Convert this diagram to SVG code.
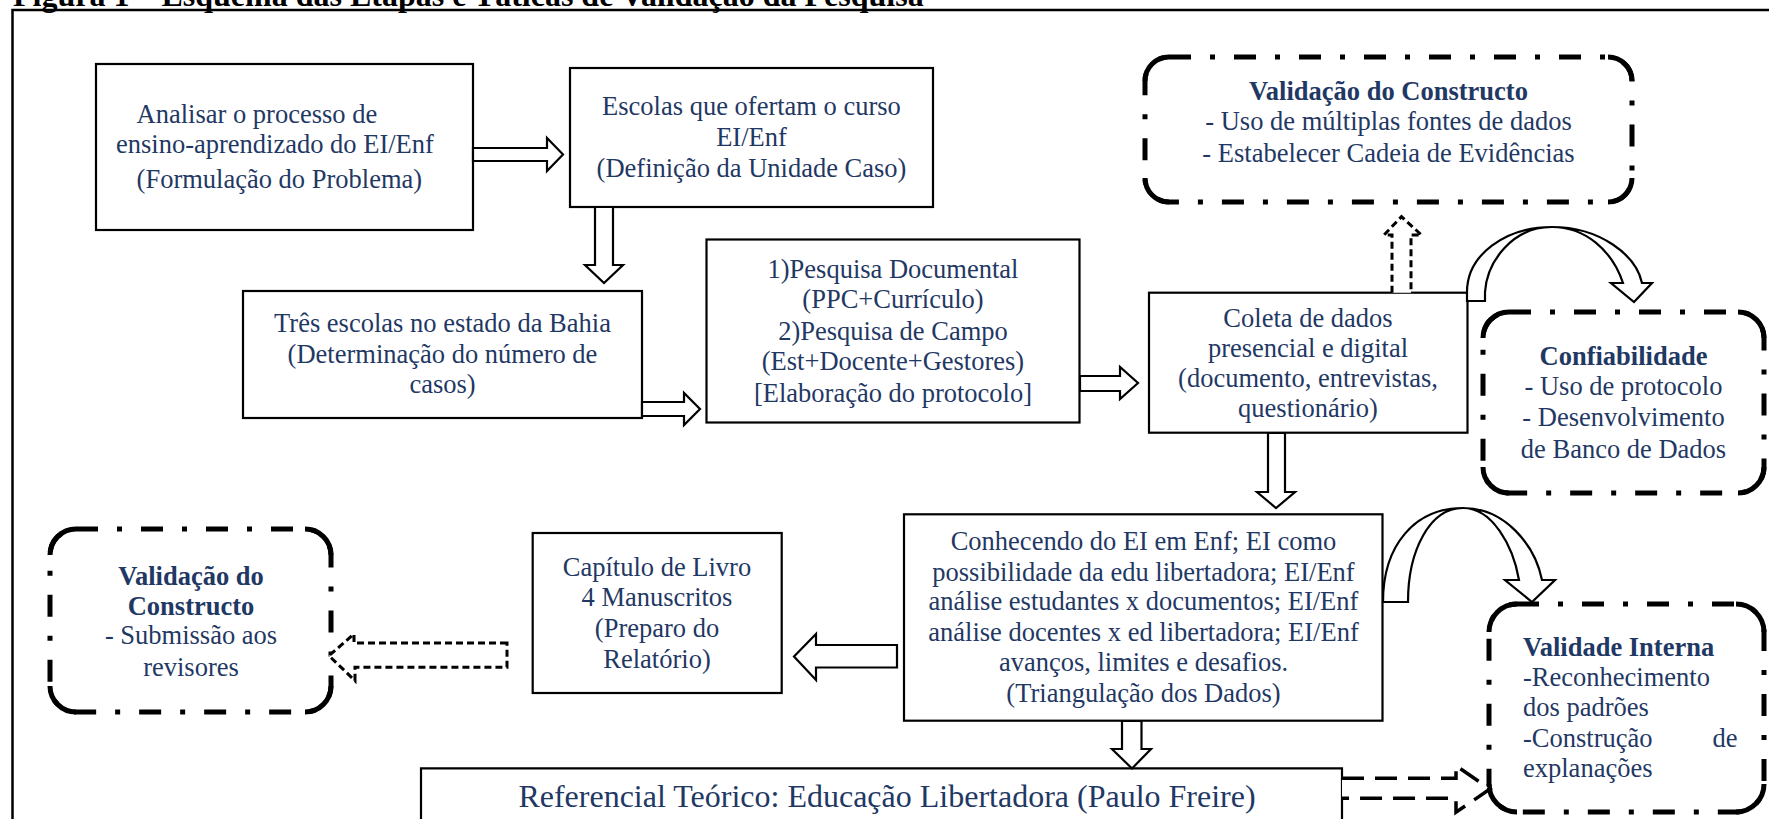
<svg xmlns="http://www.w3.org/2000/svg" width="1769" height="819" viewBox="0 0 1769 819">
<style>
.box{fill:#fff;stroke:#000;stroke-width:2.2}
.dd{fill:#fff;stroke:#000;stroke-width:5;stroke-dasharray:22 19 5 19}
.corner{fill:none;stroke:#000;stroke-width:5}
.arr{fill:#fff;stroke:#000;stroke-width:2.2;stroke-linejoin:miter}
.darr{fill:#fff;stroke:#000;stroke-width:3;stroke-dasharray:7 4}
.darr2{fill:#fff;stroke:#000;stroke-width:3.5;stroke-dasharray:22 11}
.t{font-family:"Liberation Serif","Times New Roman",serif;font-size:26.5px;fill:#1F3864}
.c{text-anchor:middle}
.b{font-weight:bold}
.title{font-family:"Liberation Serif","Times New Roman",serif;font-size:32px;font-weight:bold;fill:#000}
</style>
<rect width="1769" height="819" fill="#fff"/>
<text class="title" x="13" y="6">Figura 1 – Esquema das Etapas e Táticas de Validação da Pesquisa</text>
<path d="M12.5,819 V10 H1769" fill="none" stroke="#000" stroke-width="2.5"/>

<g id="n-analisar">
<rect class="box" x="96" y="64" width="377" height="166"/>
<text class="t" x="136.6" y="122.7">Analisar o processo de</text>
<text class="t" x="116" y="152.7">ensino-aprendizado do EI/Enf</text>
<text class="t" x="136.6" y="188">(Formulação do Problema)</text>
</g>

<g id="n-escolas">
<rect class="box" x="570" y="68" width="363" height="139"/>
<text class="t c" x="751.5" y="115">Escolas que ofertam o curso</text>
<text class="t c" x="751.5" y="146">EI/Enf</text>
<text class="t c" x="751.5" y="177">(Definição da Unidade Caso)</text>
</g>

<g id="n-tres">
<rect class="box" x="243" y="291" width="399" height="127"/>
<text class="t c" x="442.5" y="331.7">Três escolas no estado da Bahia</text>
<text class="t c" x="442.5" y="362.7">(Determinação do número de</text>
<text class="t c" x="442.5" y="393.3">casos)</text>
</g>

<g id="n-pesquisa">
<rect class="box" x="706.5" y="239.5" width="373" height="183"/>
<text class="t c" x="893" y="278.3">1)Pesquisa Documental</text>
<text class="t c" x="893" y="308.3">(PPC+Currículo)</text>
<text class="t c" x="893" y="340">2)Pesquisa de Campo</text>
<text class="t c" x="893" y="370">(Est+Docente+Gestores)</text>
<text class="t c" x="893" y="401.7">[Elaboração do protocolo]</text>
</g>

<g id="n-coleta">
<rect class="box" x="1149" y="292.7" width="318.5" height="140"/>
<text class="t c" x="1308" y="326.7">Coleta de dados</text>
<text class="t c" x="1308" y="357.3">presencial e digital</text>
<text class="t c" x="1308" y="386.7">(documento, entrevistas,</text>
<text class="t c" x="1308" y="416.7">questionário)</text>
</g>

<g id="n-validacao-top">
<rect class="dd" x="1145" y="57" width="487" height="145" rx="24" ry="24"/>
<path class="corner" d="M1145,81 A24,24 0 0 1 1169,57 M1608,57 A24,24 0 0 1 1632,81 M1632,178 A24,24 0 0 1 1608,202 M1169,202 A24,24 0 0 1 1145,178"/>
<text class="t c b" x="1388.5" y="100">Validação do Constructo</text>
<text class="t c" x="1388.5" y="130">- Uso de múltiplas fontes de dados</text>
<text class="t c" x="1388.5" y="161.7">- Estabelecer Cadeia de Evidências</text>
</g>

<g id="n-confiabilidade">
<rect class="dd" x="1483" y="312" width="281" height="181" rx="26" ry="26"/>
<path class="corner" d="M1483,338 A26,26 0 0 1 1509,312 M1738,312 A26,26 0 0 1 1764,338 M1764,467 A26,26 0 0 1 1738,493 M1509,493 A26,26 0 0 1 1483,467"/>
<text class="t c b" x="1623.5" y="365">Confiabilidade</text>
<text class="t c" x="1623.5" y="395">- Uso de protocolo</text>
<text class="t c" x="1623.5" y="426">- Desenvolvimento</text>
<text class="t c" x="1623.5" y="458.3">de Banco de Dados</text>
</g>

<g id="n-conhecendo">
<rect class="box" x="904" y="514.3" width="478.5" height="206.4"/>
<text class="t c" x="1143.5" y="549.7">Conhecendo do EI em Enf; EI como</text>
<text class="t c" x="1143.5" y="580.7">possibilidade da edu libertadora; EI/Enf</text>
<text class="t c" x="1143.5" y="609.7">análise estudantes x documentos; EI/Enf</text>
<text class="t c" x="1143.5" y="640.7">análise docentes x ed libertadora; EI/Enf</text>
<text class="t c" x="1143.5" y="670.7">avanços, limites e desafios.</text>
<text class="t c" x="1143.5" y="701.7">(Triangulação dos Dados)</text>
</g>

<g id="n-capitulo">
<rect class="box" x="532.7" y="533" width="249" height="160"/>
<text class="t c" x="657" y="575.7">Capítulo de Livro</text>
<text class="t c" x="657" y="606.3">4 Manuscritos</text>
<text class="t c" x="657" y="637.3">(Preparo do</text>
<text class="t c" x="657" y="668.3">Relatório)</text>
</g>

<g id="n-validacao-left">
<rect class="dd" x="50" y="529" width="281" height="183" rx="26" ry="26"/>
<path class="corner" d="M50,555 A26,26 0 0 1 76,529 M305,529 A26,26 0 0 1 331,555 M331,686 A26,26 0 0 1 305,712 M76,712 A26,26 0 0 1 50,686"/>
<text class="t c b" x="191" y="584.7">Validação do</text>
<text class="t c b" x="191" y="614.7">Constructo</text>
<text class="t c" x="191" y="644">- Submissão aos</text>
<text class="t c" x="191" y="675.7">revisores</text>
</g>

<g id="n-validade">
<rect class="dd" x="1489" y="604" width="275" height="208" rx="28" ry="28"/>
<path class="corner" d="M1489,632 A28,28 0 0 1 1517,604 M1736,604 A28,28 0 0 1 1764,632 M1764,784 A28,28 0 0 1 1736,812 M1517,812 A28,28 0 0 1 1489,784"/>
<text class="t b" x="1523" y="655.7">Validade Interna</text>
<text class="t" x="1523" y="685.7">-Reconhecimento</text>
<text class="t" x="1523" y="716.3">dos padrões</text>
<text class="t" x="1523" y="747.3">-Construção</text>
<text class="t" x="1737.5" y="747.3" text-anchor="end">de</text>
<text class="t" x="1523" y="777.3">explanações</text>
</g>

<g id="n-referencial">
<path class="box" d="M421,830 V768.3 H1342 V830"/>
<text class="t c" x="887" y="807.3" style="font-size:32px">Referencial Teórico: Educação Libertadora (Paulo Freire)</text>
</g>

<g id="connectors">
<polygon class="arr" points="473,148 547,148 547,138 563,154.5 547,171 547,161 473,161"/>
<polygon class="arr" points="595,207 613,207 613,265 623,265 604,283 585,265 595,265"/>
<polygon class="arr" points="642,402 684,402 684,393 700,409 684,425 684,416 642,416"/>
<polygon class="arr" points="1080,376 1120,376 1120,367 1138,383 1120,399 1120,391 1080,391"/>
<polygon class="arr" points="1268,433 1285,433 1285,492 1295,492 1276,508 1257,492 1268,492"/>
<polygon class="arr" points="897,645 816,645 816,634 794,656.5 816,680 816,667.5 897,667.5"/>
<polygon class="arr" points="1122,721 1141.5,721 1141.5,749 1151,749 1132,768.5 1112,749 1122,749"/>
<path class="arr" d="M1467,301 V292 C1467,255 1505,227 1552,227 C1600,227 1636,255 1642,283 L1652,283 L1634,302 L1611,283 L1623,283 C1612,250 1585,227 1552,227 C1512,227 1487,262 1485,292 V301 Z"/>
<path class="arr" d="M1383,602 C1383,545 1415,508 1463,508 C1505,508 1535,545 1542,580 L1555,580 L1532,602 L1505,580 L1519,580 C1513,545 1492,508 1463,508 C1430,508 1408,550 1408,602 Z"/>
<path class="darr" d="M1392,292.7 V235 H1384 L1401.5,216.7 L1421.5,235 H1411 V292.7"/>
<path class="darr" d="M507,643 H354 V634 L329,655.7 L355,680.7 V667.3 H507 Z"/>
<path class="darr2" d="M1342,778.3 H1456 V765.7 L1490,789 L1456,812.3 V798.3 H1342"/>
</g>
</svg>
